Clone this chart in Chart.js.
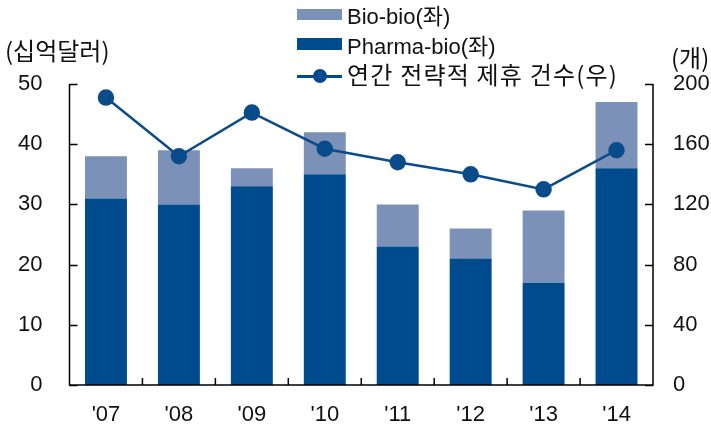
<!DOCTYPE html>
<html>
<head>
<meta charset="utf-8">
<script src="https://cdn.jsdelivr.net/npm/chart.js@4.4.1/dist/chart.umd.min.js"></script>
<style>
  body { margin: 0; background: #fff; }
  #wrap { position: relative; width: 711px; height: 426px; }
  .lbl { position: absolute; font-family: "Liberation Sans", "Noto Sans CJK KR", sans-serif; font-size: 22px; color: #111; white-space: nowrap; line-height: 1; }
  .kr { font-family: "Noto Sans CJK KR", sans-serif; }
  .box { position: absolute; }
</style>
</head>
<body>
<div id="wrap">
  <canvas id="chart" width="711" height="426"></canvas>
  <!-- axis units -->
  <div class="lbl kr" style="left:5px; top:38px; font-size:24px;">(십억달러)</div>
  <div class="lbl kr" style="left:671px; top:45px; font-size:24px;">(개)</div>
  <!-- legend -->
  <div class="box" style="left:297px; top:9px; width:45px; height:11px; background:#7b91b8;"></div>
  <div class="lbl" style="left:347px; top:3px;">Bio-bio(<span class="kr">좌</span>)</div>
  <div class="box" style="left:297px; top:38px; width:45px; height:12px; background:#004b8d;"></div>
  <div class="lbl" style="left:347px; top:33px;">Pharma-bio(<span class="kr">좌</span>)</div>
  <div class="box" style="left:297px; top:75px; width:45px; height:3px; background:#004b8d;"></div>
  <div class="box" style="left:313px; top:69px; width:14px; height:14px; border-radius:50%; background:#004b8d;"></div>
  <div class="lbl kr" style="left:347px; top:62px; font-size:24px; letter-spacing:1.2px;">연간 전략적 제휴 건수(우)</div>
</div>
<script>
const years = ["'07", "'08", "'09", "'10", "'11", "'12", "'13", "'14"];
const pharmaBio = [31, 30, 33, 35, 23, 21, 17, 36];
const bioBio = [7, 9, 3, 7, 7, 5, 12, 11];
const deals = [191, 152, 181, 157, 148, 140, 130, 156];
const leftTicks = [0, 10, 20, 30, 40, 50];
const rightTicks = [0, 40, 80, 120, 160, 200];

const tickFont = { family: "'Liberation Sans', sans-serif", size: 22 };

// inward tick marks + axis frame
const innerTicks = {
  id: 'innerTicks',
  afterDraw(chart) {
    const c = chart.ctx;
    const x = chart.scales.x, yL = chart.scales.y, yR = chart.scales.y1;
    const a = chart.chartArea;
    c.save();
    c.strokeStyle = '#000';
    c.lineWidth = 1.5;
    c.beginPath();
    c.moveTo(a.left, a.top); c.lineTo(a.left, a.bottom); c.lineTo(a.right, a.bottom); c.lineTo(a.right, a.top);
    leftTicks.forEach(v => {
      const py = Math.round(yL.getPixelForValue(v)) + 0.5;
      c.moveTo(a.left, py); c.lineTo(a.left + 8, py);
    });
    rightTicks.forEach(v => {
      const py = Math.round(yR.getPixelForValue(v)) + 0.5;
      c.moveTo(a.right, py); c.lineTo(a.right - 8, py);
    });
    for (let i = 1; i < years.length; i++) {
      const px = (x.getPixelForValue(i - 1) + x.getPixelForValue(i)) / 2;
      c.moveTo(px, a.bottom); c.lineTo(px, a.bottom - 7);
    }
    c.stroke();
    c.restore();
  }
};

new Chart(document.getElementById('chart'), {
  data: {
    labels: years,
    datasets: [
      {
        type: 'line', label: '연간 전략적 제휴 건수(우)', data: deals, yAxisID: 'y1',
        borderColor: '#0a4c8a', backgroundColor: '#0a4c8a', borderWidth: 2.5,
        pointRadius: 7, pointHoverRadius: 7, tension: 0, order: 0
      },
      {
        type: 'bar', label: 'Pharma-bio(좌)', data: pharmaBio, yAxisID: 'y',
        backgroundColor: '#004b8d', stack: 's', order: 1,
        categoryPercentage: 1, barPercentage: 0.575
      },
      {
        type: 'bar', label: 'Bio-bio(좌)', data: bioBio, yAxisID: 'y',
        backgroundColor: '#7b91b8', stack: 's', order: 1,
        categoryPercentage: 1, barPercentage: 0.575
      }
    ]
  },
  options: {
    responsive: false,
    animation: false,
    layout: { padding: { top: 84, left: 0, right: 0, bottom: 0 } },
    plugins: { legend: { display: false }, tooltip: { enabled: false } },
    scales: {
      x: {
        stacked: true,
        grid: { display: false, drawTicks: false },
        border: { display: false },
        ticks: { color: '#111', font: tickFont, padding: 17 },
        afterFit(s) { s.height = 41; }
      },
      y: {
        position: 'left', stacked: true, min: 0, max: 50,
        afterBuildTicks(s) { s.ticks = leftTicks.map(v => ({ value: v })); },
        grid: { display: false, drawTicks: false },
        border: { display: false },
        ticks: { color: '#111', font: tickFont, padding: 27 },
        afterFit(s) { s.width = 69.5; }
      },
      y1: {
        position: 'right', min: 0, max: 200,
        afterBuildTicks(s) { s.ticks = rightTicks.map(v => ({ value: v })); },
        grid: { display: false, drawTicks: false },
        border: { display: false },
        ticks: { color: '#111', font: tickFont, padding: 20 },
        afterFit(s) { s.width = 58; }
      }
    }
  },
  plugins: [innerTicks]
});
</script>
</body>
</html>
